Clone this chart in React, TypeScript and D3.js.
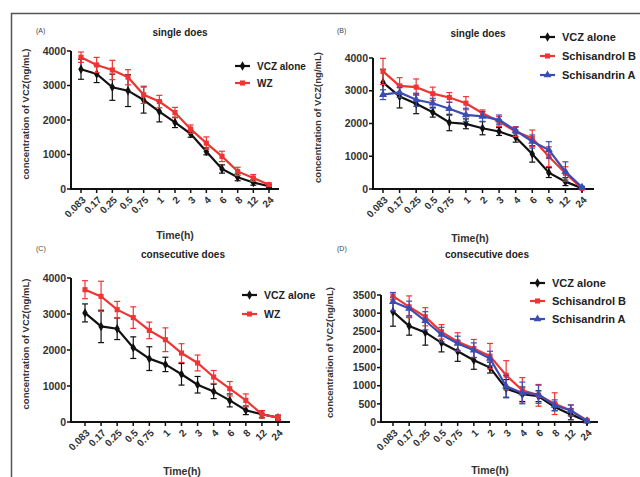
import React, { useEffect, useRef } from 'react';
import * as d3 from 'd3';

const times = ['0.083', '0.17', '0.25', '0.5', '0.75', '1', '2', '3', '4', '6', '8', '12', '24'];

// (A) single does
const aVcz = [3470, 3335, 2950, 2850, 2580, 2245, 1930, 1600, 1090, 580, 340, 190, 80];
const aVczErr = [290, 250, 380, 460, 380, 300, 150, 100, 100, 120, 100, 80, 40];
const aWz = [3820, 3595, 3450, 3240, 2730, 2535, 2215, 1735, 1330, 945, 510, 320, 125];
const aWzErr = [150, 220, 280, 220, 250, 180, 150, 120, 180, 150, 120, 100, 50];

// (B) single does
const bVcz = [3255, 2825, 2600, 2345, 2030, 1990, 1855, 1755, 1580, 1070, 500, 225, 20];
const bVczErr = [400, 350, 300, 150, 250, 150, 200, 120, 150, 250, 150, 120, 30];
const bSchB = [3590, 3150, 3110, 2910, 2795, 2620, 2315, 2060, 1755, 1550, 990, 480, 20];
const bSchBErr = [400, 250, 250, 200, 150, 200, 100, 150, 150, 250, 300, 200, 30];
const bSchA = [2880, 2950, 2725, 2620, 2450, 2265, 2215, 2110, 1785, 1450, 1195, 530, 50];
const bSchAErr = [150, 150, 200, 150, 200, 200, 150, 150, 100, 200, 250, 300, 30];

// (C) consecutive does
const cVcz = [3030, 2655, 2590, 2065, 1760, 1600, 1325, 1035, 850, 600, 325, 215, 120];
const cVczErr = [250, 450, 300, 300, 330, 200, 300, 230, 200, 180, 120, 100, 50];
const cWz = [3675, 3490, 3120, 2900, 2545, 2285, 1915, 1640, 1250, 925, 600, 215, 120];
const cWzErr = [250, 420, 230, 300, 230, 330, 260, 220, 180, 200, 180, 100, 80];

// (D) consecutive does
const dVcz = [3040, 2643, 2468, 2182, 1952, 1703, 1500, 920, 765, 710, 415, 210, 20];
const dVczErr = [400, 250, 350, 250, 280, 250, 150, 250, 200, 150, 100, 150, 20];
const dSchB = [3470, 3175, 2900, 2485, 2210, 2025, 1815, 1290, 875, 735, 505, 320, 45];
const dSchBErr = [100, 300, 250, 200, 250, 250, 350, 400, 350, 300, 300, 150, 30];
const dSchA = [3315, 3130, 2790, 2410, 2165, 1980, 1750, 985, 800, 765, 460, 320, 20];
const dSchAErr = [250, 200, 250, 200, 200, 200, 200, 300, 300, 250, 150, 150, 20];

const BLACK = '#111111';
const RED = '#f03434';
const BLUE = '#3b4db3';
const FONT = '"Liberation Sans", Arial, sans-serif';

type Series = { name: string; values: number[]; err: number[]; color: string; shape: 'diamond' | 'square' | 'triangle' };

type PanelCfg = {
  tag: string;
  title: string;
  titleX: number;
  titleY: number;
  tagX: number;
  tagY: number;
  axisX: [number, number];
  pointX: [number, number];
  yRange: [number, number];
  yMax: number;
  yTicks: number[];
  yLabelX: number;
  xLabelX: number;
  xLabelY: number;
  legendX: number;
  legendY: number;
  legendGap: number;
  legendSize: number;
  series: Series[];
};

const panels: PanelCfg[] = [
  {
    tag: '(A)', title: 'single does', titleX: 180, titleY: 32, tagX: 36, tagY: 31,
    axisX: [71, 279], pointX: [81, 269], yRange: [189, 51], yMax: 4000, yTicks: [0, 1000, 2000, 3000, 4000],
    yLabelX: 26, xLabelX: 175, xLabelY: 235, legendX: 235, legendY: 66, legendGap: 17, legendSize: 10,
    series: [
      { name: 'VCZ alone', values: aVcz, err: aVczErr, color: BLACK, shape: 'diamond' },
      { name: 'WZ', values: aWz, err: aWzErr, color: RED, shape: 'square' },
    ],
  },
  {
    tag: '(B)', title: 'single does', titleX: 478, titleY: 33, tagX: 337, tagY: 31,
    axisX: [373, 594], pointX: [383, 582], yRange: [189, 58], yMax: 4000, yTicks: [0, 1000, 2000, 3000, 4000],
    yLabelX: 318, xLabelX: 470, xLabelY: 238, legendX: 540, legendY: 37, legendGap: 19, legendSize: 11,
    series: [
      { name: 'VCZ alone', values: bVcz, err: bVczErr, color: BLACK, shape: 'diamond' },
      { name: 'Schisandrol B', values: bSchB, err: bSchBErr, color: RED, shape: 'square' },
      { name: 'Schisandrin A', values: bSchA, err: bSchAErr, color: BLUE, shape: 'triangle' },
    ],
  },
  {
    tag: '(C)', title: 'consecutive does', titleX: 183, titleY: 254, tagX: 36, tagY: 249,
    axisX: [71, 290], pointX: [85, 278], yRange: [422, 278], yMax: 4000, yTicks: [0, 1000, 2000, 3000, 4000],
    yLabelX: 26, xLabelX: 182, xLabelY: 471, legendX: 242, legendY: 295, legendGap: 19, legendSize: 10.5,
    series: [
      { name: 'VCZ alone', values: cVcz, err: cVczErr, color: BLACK, shape: 'diamond' },
      { name: 'WZ', values: cWz, err: cWzErr, color: RED, shape: 'square' },
    ],
  },
  {
    tag: '(D)', title: 'consecutive does', titleX: 487, titleY: 254, tagX: 337, tagY: 249,
    axisX: [381, 598], pointX: [393, 587], yRange: [422, 295], yMax: 3500,
    yTicks: [0, 500, 1000, 1500, 2000, 2500, 3000, 3500],
    yLabelX: 330, xLabelX: 490, xLabelY: 470, legendX: 530, legendY: 283, legendGap: 18, legendSize: 11,
    series: [
      { name: 'VCZ alone', values: dVcz, err: dVczErr, color: BLACK, shape: 'diamond' },
      { name: 'Schisandrol B', values: dSchB, err: dSchBErr, color: RED, shape: 'square' },
      { name: 'Schisandrin A', values: dSchA, err: dSchAErr, color: BLUE, shape: 'triangle' },
    ],
  },
];

const symbolFor = (shape: string) =>
  shape === 'square' ? d3.symbolSquare : shape === 'triangle' ? d3.symbolTriangle : d3.symbolDiamond;

const App = () => {
  const ref = useRef<SVGSVGElement>(null);

  useEffect(() => {
    const svg = d3.select(ref.current);
    svg.selectAll('*').remove();

    svg.append('rect').attr('width', 640).attr('height', 477).attr('fill', '#fff');
    // frame (left and top edges only)
    svg.append('path').attr('d', 'M11.5,477 L11.5,13.5 L640,13.5')
      .attr('fill', 'none').attr('stroke', '#555').attr('stroke-width', 1.5);

    panels.forEach(p => {
      const g = svg.append('g').style('font-family', FONT);

      const x = d3.scalePoint<string>().domain(times).range(p.pointX);
      const y = d3.scaleLinear().domain([0, p.yMax]).range(p.yRange);

      // x axis
      const xa = g.append('g').attr('transform', `translate(0,${p.yRange[0]})`);
      xa.append('line').attr('x1', p.axisX[0]).attr('x2', p.axisX[1])
        .attr('stroke', BLACK).attr('stroke-width', 2);
      times.forEach(t => {
        xa.append('line').attr('x1', x(t)!).attr('x2', x(t)!).attr('y1', 0).attr('y2', 4)
          .attr('stroke', BLACK).attr('stroke-width', 1.5);
        xa.append('text')
          .attr('transform', `translate(${x(t)! + 3},${9}) rotate(-45)`)
          .attr('text-anchor', 'end')
          .attr('dy', '0.35em')
          .style('font-size', '10px').style('font-weight', 'bold').style('fill', '#333')
          .text(t);
      });

      // y axis
      const ya = g.append('g').attr('transform', `translate(${p.axisX[0]},0)`);
      ya.append('line').attr('y1', p.yRange[0] + 1).attr('y2', p.yRange[1])
        .attr('stroke', BLACK).attr('stroke-width', 2);
      p.yTicks.forEach(v => {
        ya.append('line').attr('x1', -4).attr('x2', 0).attr('y1', y(v)).attr('y2', y(v))
          .attr('stroke', BLACK).attr('stroke-width', 1.5);
        ya.append('text').attr('x', -5).attr('y', y(v)).attr('dy', '0.35em')
          .attr('text-anchor', 'end')
          .style('font-size', '10.5px').style('font-weight', 'bold').style('fill', '#333')
          .text(v);
      });

      // axis titles
      g.append('text')
        .attr('transform', `translate(${p.yLabelX},${(p.yRange[0] + p.yRange[1]) / 2 - 6}) rotate(-90)`)
        .attr('text-anchor', 'middle').attr('dy', '0.35em')
        .style('font-size', '9.5px').style('font-weight', 'bold').style('fill', '#333')
        .text('concentration of VCZ(ng/mL)');
      g.append('text').attr('x', p.xLabelX).attr('y', p.xLabelY).attr('text-anchor', 'middle')
        .attr('dy', '0.35em')
        .style('font-size', '10.5px').style('font-weight', 'bold').style('fill', '#333')
        .text('Time(h)');
      g.append('text').attr('x', p.titleX).attr('y', p.titleY).attr('text-anchor', 'middle')
        .attr('dy', '0.35em')
        .style('font-size', '10px').style('font-weight', 'bold').style('fill', '#222')
        .text(p.title);
      g.append('text').attr('x', p.tagX).attr('y', p.tagY).attr('dy', '0.35em')
        .style('font-size', '7px').style('fill', '#444')
        .text(p.tag);

      // series
      p.series.forEach(s => {
        const sg = g.append('g');
        // error bars
        s.values.forEach((v, i) => {
          const cx = x(times[i])!;
          const hi = y(v + s.err[i]);
          const lo = y(Math.max(0, v - s.err[i]));
          sg.append('line').attr('x1', cx).attr('x2', cx).attr('y1', hi).attr('y2', lo)
            .attr('stroke', s.color).attr('stroke-width', 1.2);
          [hi, lo].forEach(yy => sg.append('line').attr('x1', cx - 3).attr('x2', cx + 3)
            .attr('y1', yy).attr('y2', yy).attr('stroke', s.color).attr('stroke-width', 1.2));
        });
        const line = d3.line<number>().x((_, i) => x(times[i])!).y(v => y(v));
        sg.append('path').attr('d', line(s.values)!).attr('fill', 'none')
          .attr('stroke', s.color).attr('stroke-width', 2.2);
        const sym = d3.symbol().type(symbolFor(s.shape)).size(s.shape === 'triangle' ? 28 : 26);
        s.values.forEach((v, i) => {
          sg.append('path').attr('d', sym()!)
            .attr('transform', `translate(${x(times[i])},${y(v)})`).attr('fill', s.color);
        });
      });

      // legend
      p.series.forEach((s, i) => {
        const ly = p.legendY + i * p.legendGap;
        const lg = g.append('g');
        lg.append('line').attr('x1', p.legendX).attr('x2', p.legendX + 15).attr('y1', ly).attr('y2', ly)
          .attr('stroke', s.color).attr('stroke-width', 2.2);
        lg.append('path').attr('d', d3.symbol().type(symbolFor(s.shape)).size(26)()!)
          .attr('transform', `translate(${p.legendX + 7.5},${ly})`).attr('fill', s.color);
        lg.append('text').attr('x', p.legendX + 22).attr('y', ly).attr('dy', '0.35em')
          .style('font-size', `${p.legendSize}px`).style('font-weight', 'bold').style('fill', '#222')
          .text(s.name);
      });
    });
  }, []);

  return (
    <svg ref={ref} width={640} height={477}
      style={{ position: 'absolute', left: 0, top: 0, display: 'block' }} />
  );
};

export default App;
